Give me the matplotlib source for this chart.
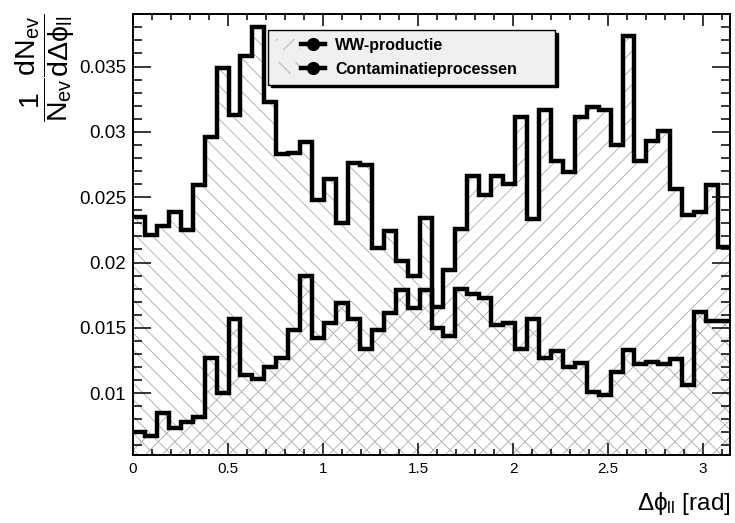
import numpy as np
import matplotlib
matplotlib.use("Agg")
import matplotlib.pyplot as plt
from matplotlib.patches import Patch
from matplotlib.lines import Line2D
from matplotlib.legend_handler import HandlerTuple
from matplotlib.ticker import MultipleLocator, FuncFormatter

plt.rcParams["font.family"] = ["Liberation Sans", "DejaVu Sans"]
plt.rcParams["mathtext.fontset"] = "custom"
plt.rcParams["mathtext.rm"] = "Liberation Sans"
plt.rcParams["mathtext.it"] = "Liberation Sans"
plt.rcParams["mathtext.bf"] = "Liberation Sans:bold"
plt.rcParams["mathtext.fallback"] = "stixsans"
plt.rcParams["hatch.linewidth"] = 0.6

# 50 bins over [0, pi], normalised distributions
n_bins = 50
ww_productie = [
    0.0070, 0.0067, 0.0085, 0.0073, 0.0078, 0.0082, 0.0127, 0.0100, 0.0157, 0.0114,
    0.0111, 0.0120, 0.0127, 0.0148, 0.0190, 0.0142, 0.0154, 0.0169, 0.0157, 0.0134,
    0.0148, 0.0161, 0.0179, 0.0165, 0.0179, 0.0166, 0.0194, 0.0226, 0.0266, 0.0252,
    0.0266, 0.0260, 0.0311, 0.0233, 0.0317, 0.0278, 0.0269, 0.0311, 0.0319, 0.0317,
    0.0290, 0.0373, 0.0278, 0.0293, 0.0301, 0.0256, 0.0236, 0.0239, 0.0259, 0.0212,
]
contaminatie = [
    0.0235, 0.0221, 0.0228, 0.0239, 0.0225, 0.0259, 0.0296, 0.0349, 0.0313, 0.0358,
    0.0380, 0.0323, 0.0283, 0.0284, 0.0292, 0.0248, 0.0264, 0.0230, 0.0276, 0.0275,
    0.0211, 0.0224, 0.0201, 0.0190, 0.0234, 0.0150, 0.0144, 0.0180, 0.0176, 0.0173,
    0.0152, 0.0154, 0.0134, 0.0157, 0.0127, 0.0132, 0.0120, 0.0123, 0.0101, 0.0099,
    0.0116, 0.0133, 0.0122, 0.0124, 0.0122, 0.0126, 0.0106, 0.0162, 0.0155, 0.0155,
]
labels = ["WW-productie", "Contaminatieprocessen"]
hatches = ["//", "\\\\"]

edges = np.linspace(0, np.pi, n_bins + 1)
series = [ww_productie, contaminatie]
hatch_col = "#a8a8a8"

fig = plt.figure(figsize=(7.35, 5.23), dpi=100)
ax = fig.add_axes([133 / 735, 1 - 455 / 523, 597 / 735, 441 / 523])

for vals, h in zip(series, hatches):
    ax.stairs(vals, edges, fill=True, baseline=0, hatch=h, facecolor="none",
              edgecolor=hatch_col, linewidth=0, zorder=1)
for vals in series:
    ax.stairs(vals, edges, baseline=None, color="k", linewidth=3.2, zorder=3)

ax.set_xlim(0, np.pi)
ax.set_ylim(0.00527, 0.03902)
ax.xaxis.set_major_locator(MultipleLocator(0.5))
ax.xaxis.set_minor_locator(MultipleLocator(0.1))
ax.yaxis.set_major_locator(MultipleLocator(0.005))
ax.yaxis.set_minor_locator(MultipleLocator(0.001))
fmt = FuncFormatter(lambda v, p: f"{v:g}")
ax.xaxis.set_major_formatter(fmt)
ax.yaxis.set_major_formatter(fmt)
ax.tick_params(which="both", direction="in", top=True, right=True, width=1.1)
ax.tick_params(axis="x", which="major", length=8.5, labelsize=11, pad=5)
ax.tick_params(axis="x", which="minor", length=4.5)
ax.tick_params(axis="y", which="major", length=13, labelsize=13.5, pad=5)
ax.tick_params(axis="y", which="minor", length=6.5)
for s in ax.spines.values():
    s.set_linewidth(1.4)

handles = [(Patch(facecolor="none", edgecolor=hatch_col, hatch=h, linewidth=0),
            Line2D([], [], color="k", lw=3.2, marker="o", ms=8.5))
           for h in hatches]
leg = ax.legend(handles, labels, handler_map={tuple: HandlerTuple(ndivide=None, pad=0)},
                loc="upper left", bbox_to_anchor=(0.226, 0.844, 0.481, 0.12),
                mode="expand", prop={"weight": "bold", "size": 11.5},
                fancybox=False, shadow={"color": "black", "alpha": 1},
                facecolor="#f0f0f0", edgecolor="black", framealpha=1,
                handlelength=3.1, handletextpad=0.6, labelspacing=0.55,
                borderpad=0.5, borderaxespad=0)
leg.get_frame().set_linewidth(1.0)

fig.text(45 / 735, 1 - 14 / 523,
         r"$\dfrac{1}{N_{\mathrm{ev}}}\dfrac{dN_{\mathrm{ev}}}{d\Delta\phi_{\mathrm{ll}}}$",
         rotation=90, ha="center", va="top", fontsize=20.5)
fig.text(730 / 735, 1 - 510 / 523, r"$\Delta\phi_{\mathrm{ll}}$ [rad]",
         ha="right", va="baseline", fontsize=17.5)

fig.savefig("out.png", dpi=100)
